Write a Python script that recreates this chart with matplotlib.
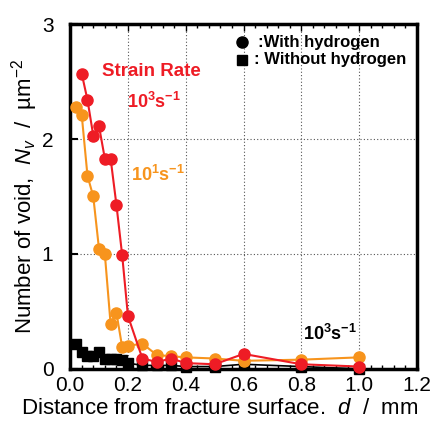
import matplotlib
matplotlib.use("Agg")
import matplotlib.pyplot as plt
from matplotlib.ticker import MultipleLocator

plt.rcParams['font.family'] = ['Liberation Sans', 'DejaVu Sans']
plt.rcParams['mathtext.fontset'] = 'custom'
plt.rcParams['mathtext.rm'] = 'Liberation Sans'
plt.rcParams['mathtext.it'] = 'Liberation Sans:italic'
plt.rcParams['mathtext.bf'] = 'Liberation Sans:bold'

# with hydrogen, 10^3 s^-1
x_h3 = [0.04, 0.06, 0.08, 0.10, 0.12, 0.14, 0.16, 0.18, 0.20, 0.25, 0.30, 0.35, 0.40, 0.50, 0.60, 0.80, 1.00]
y_h3 = [2.57, 2.34, 2.03, 2.11, 1.83, 1.83, 1.43, 0.99, 0.46, 0.09, 0.06, 0.09, 0.05, 0.04, 0.13, 0.04, 0.02]

# with hydrogen, 10^1 s^-1
x_h1 = [0.02, 0.04, 0.06, 0.08, 0.10, 0.12, 0.14, 0.16, 0.18, 0.20, 0.25, 0.30, 0.35, 0.40, 0.50, 0.60, 0.80, 1.00]
y_h1 = [2.28, 2.21, 1.68, 1.50, 1.04, 1.00, 0.39, 0.49, 0.19, 0.20, 0.22, 0.12, 0.11, 0.10, 0.09, 0.07, 0.08, 0.10]

# without hydrogen, 10^3 s^-1
x_n3 = [0.02, 0.04, 0.06, 0.08, 0.10, 0.12, 0.14, 0.16, 0.18, 0.20, 0.25, 0.30, 0.35, 0.40, 0.50, 0.60, 0.80, 1.00]
y_n3 = [0.22, 0.15, 0.11, 0.11, 0.15, 0.09, 0.09, 0.09, 0.08, 0.05, 0.03, 0.03, 0.03, 0.02, 0.02, 0.04, 0.02, 0.00]

xticks = [0, 0.2, 0.4, 0.6, 0.8, 1.0, 1.2]
xticklabels = ['0.0', '0.2', '0.4', '0.6', '0.8', '1.0', '1.2']

red = '#ee1c25'
orange = '#f7941d'

fig = plt.figure(figsize=(4.44, 4.23), dpi=100)
ax = fig.add_axes([0.158, 0.128, 0.781, 0.815])

ax.plot(x_n3, y_n3, '-', color='black', lw=1.2, marker='s', ms=7.5, clip_on=False, zorder=3)
ax.plot(x_h1, y_h1, '-', color=orange, lw=1.5, marker='o', ms=8, clip_on=False, zorder=4)
ax.plot(x_h3, y_h3, '-', color=red, lw=1.5, marker='o', ms=8, clip_on=False, zorder=5)

ax.set_xlim(0, 1.2)
ax.set_ylim(0, 3)
ax.set_xticks(xticks)
ax.set_xticklabels(xticklabels)
ax.xaxis.set_minor_locator(MultipleLocator(0.04))
ax.yaxis.set_major_locator(MultipleLocator(1))
ax.tick_params(axis='x', which='major', direction='in', length=5, width=1, top=True, labelsize=15, pad=5)
ax.tick_params(axis='x', which='minor', direction='in', length=3, width=1, top=True)
ax.tick_params(axis='y', which='major', direction='in', length=6, width=1.5, labelsize=15, pad=12)
for s in ax.spines.values():
    s.set_linewidth(2.5)

ax.grid(True, which='major', linestyle=(0, (1, 2)), color='#555555', lw=0.8)

ax.set_xlabel('Distance from fracture surface.  $d$  /  mm', fontsize=16)
ax.xaxis.set_label_coords(0.43, -0.085)
ax.set_ylabel('Number of void,  $N_v$  /  µm$^{-2}$', fontsize=16)
ax.yaxis.set_label_coords(-0.088, 0.5)

ax.text(0.11, 2.59, 'Strain Rate', color=red, fontsize=13.5, fontweight='bold', va='center')
ax.text(0.195, 2.32, r'$\mathbf{10^3s^{-1}}$', color=red, fontsize=13, va='center')
ax.text(0.212, 1.69, r'$\mathbf{10^1s^{-1}}$', color=orange, fontsize=13, va='center')
ax.text(0.805, 0.30, r'$\mathbf{10^3s^{-1}}$', color='black', fontsize=13, va='center')

ax.plot([0.594], [2.84], 'o', color='black', ms=8)
ax.plot([0.594], [2.69], 's', color='black', ms=7)
ax.text(0.65, 2.84, ':With hydrogen', fontsize=12, fontweight='bold', va='center')
ax.text(0.635, 2.69, ': Without hydrogen', fontsize=12, fontweight='bold', va='center')

fig.savefig('out.png', dpi=100)
